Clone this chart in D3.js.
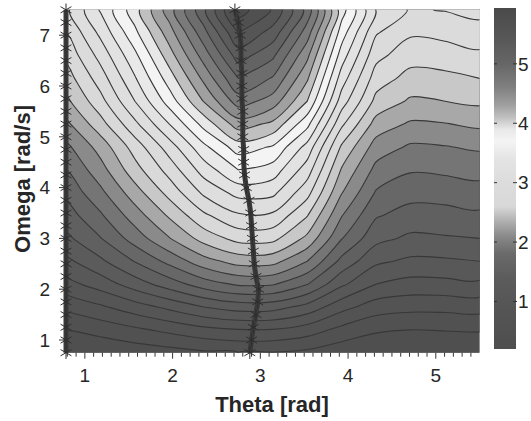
<!DOCTYPE html>
<html>
<head>
<meta charset="utf-8">
<script src="https://cdn.jsdelivr.net/npm/d3@7"></script>
<style>
  body { margin: 0; background: #fff; }
  text { font-family: "Liberation Sans", Arial, sans-serif; fill: #262626; }
</style>
</head>
<body>
<div class="chart"></div>
<script>
var svgWidth = 531;
var svgHeight = 421;

// grid of the map (theta columns, omega rows)
var thetaGrid = [0.785, 1.178, 1.571, 1.964, 2.356, 2.749, 3.142, 3.534, 3.927, 4.320, 4.712, 5.105, 5.498];
var omegaGrid = [0.75, 1.2, 1.65, 2.1, 2.55, 3.0, 3.45, 3.9, 4.35, 4.8, 5.25, 5.7, 6.15, 6.6, 7.05, 7.5];

// values, one row per omega, bottom row first
var field = [
  [0.20, 0.24, 0.28, 0.32, 0.37, 0.40, 0.39, 0.35, 0.27, 0.22, 0.20, 0.20, 0.21],
  [0.40, 0.47, 0.56, 0.65, 0.74, 0.79, 0.79, 0.70, 0.54, 0.43, 0.40, 0.41, 0.42],
  [0.65, 0.77, 0.91, 1.05, 1.20, 1.29, 1.28, 1.13, 0.87, 0.70, 0.66, 0.66, 0.68],
  [0.93, 1.09, 1.30, 1.50, 1.70, 1.83, 1.82, 1.61, 1.24, 1.00, 0.93, 0.94, 0.96],
  [1.15, 1.36, 1.61, 1.86, 2.12, 2.28, 2.27, 2.00, 1.54, 1.24, 1.16, 1.17, 1.20],
  [1.35, 1.59, 1.89, 2.19, 2.48, 2.67, 2.66, 2.35, 1.81, 1.46, 1.36, 1.38, 1.40],
  [1.50, 1.77, 2.10, 2.43, 2.76, 2.97, 2.96, 2.61, 2.01, 1.62, 1.52, 1.53, 1.56],
  [1.65, 1.95, 2.31, 2.67, 3.04, 3.27, 3.25, 2.87, 2.21, 1.78, 1.67, 1.68, 1.72],
  [1.80, 2.12, 2.52, 2.88, 3.29, 3.60, 3.51, 3.10, 2.38, 1.94, 1.82, 1.84, 1.87],
  [1.95, 2.28, 2.69, 3.10, 3.55, 3.90, 3.78, 3.33, 2.57, 2.11, 1.97, 1.99, 2.03],
  [2.15, 2.52, 2.95, 3.40, 3.87, 4.30, 4.15, 3.66, 2.84, 2.32, 2.17, 2.19, 2.24],
  [2.35, 2.73, 3.20, 3.69, 4.21, 4.70, 4.51, 4.00, 3.10, 2.54, 2.37, 2.40, 2.44],
  [2.50, 2.90, 3.38, 3.90, 4.45, 5.00, 4.78, 4.23, 3.30, 2.70, 2.53, 2.55, 2.60],
  [2.65, 3.07, 3.55, 4.11, 4.69, 5.30, 5.04, 4.45, 3.50, 2.86, 2.68, 2.70, 2.76],
  [2.80, 3.25, 3.75, 4.31, 4.93, 5.60, 5.32, 4.70, 3.70, 3.02, 2.83, 2.86, 2.91],
  [2.95, 3.42, 3.92, 4.51, 5.16, 5.90, 5.58, 4.93, 3.89, 3.19, 2.98, 3.01, 3.07]
];

var levels = [0.2, 0.4, 0.6, 0.8, 1.0, 1.2, 1.4, 1.6, 1.8, 2.0, 2.2, 2.4, 2.6, 2.8, 3.0,
  3.2, 3.4, 3.6, 3.8, 4.0, 4.2, 4.4, 4.6, 4.8, 5.0, 5.2, 5.4, 5.6, 5.8];

// optimum markers (the * chains)
var ridgeOmega = [0.75, 1.0, 1.25, 1.5, 1.75, 2.0, 2.25, 2.5, 2.75, 3.0, 3.25, 3.5, 3.75, 4.0,
  4.25, 4.5, 4.75, 5.0, 5.25, 5.5, 5.75, 6.0, 6.25, 6.5, 6.75, 7.0, 7.25, 7.5];
var ridgeTheta = [2.88, 2.90, 2.92, 2.95, 2.97, 2.98, 2.95, 2.93, 2.92, 2.91, 2.90, 2.89, 2.87, 2.84,
  2.82, 2.81, 2.81, 2.80, 2.80, 2.80, 2.79, 2.79, 2.79, 2.78, 2.78, 2.77, 2.75, 2.71];
var edgeTheta = 0.785;

// grey colour map as seen on the colour bar
var cmapValues = [0.2, 1.0, 1.4, 1.8, 2.1, 2.35, 2.6, 3.0, 3.4, 3.7, 3.9, 4.1, 4.3, 4.6, 5.0, 5.5, 5.94];
var cmapGrays = ["#4e4e4e", "#565656", "#5c5c5c", "#6a6a6a", "#8a8a8a", "#b0b0b0", "#d8d8d8", "#dcdcdc",
  "#e4e4e4", "#f4f4f4", "#e8e8e8", "#c0c0c0", "#a0a0a0", "#808080", "#666666", "#555555", "#4a4a4a"];

var xTicks = [1, 2, 3, 4, 5];
var yTicks = [1, 2, 3, 4, 5, 6, 7];
var cbTicks = [1, 2, 3, 4, 5];

var svg = d3
  .select(".chart")
  .append("svg")
  .attr("width", svgWidth)
  .attr("height", svgHeight);

var x = d3.scaleLinear().domain([0.785, 5.498]).range([66, 479.5]);
var y = d3.scaleLinear().domain([0.75, 7.5]).range([352.7, 9.8]);
var cbY = d3.scaleLinear().domain([0.2, 5.94]).range([349, 8]);
var color = d3.scaleLinear().domain(cmapValues).range(cmapGrays);

// clip to the plot area
svg.append("clipPath").attr("id", "plotClip")
  .append("rect")
  .attr("x", x(0.785)).attr("y", y(7.5))
  .attr("width", x(5.498) - x(0.785))
  .attr("height", y(0.75) - y(7.5));

var plot = svg.append("g").attr("clip-path", "url(#plotClip)");

plot.append("rect")
  .attr("x", x(0.785)).attr("y", y(7.5))
  .attr("width", x(5.498) - x(0.785))
  .attr("height", y(0.75) - y(7.5))
  .attr("fill", color(0.2));

// contours
var n = thetaGrid.length, m = omegaGrid.length;
var values = [];
field.forEach(function (row) { row.forEach(function (v) { values.push(v); }); });

var contours = d3.contours().size([n, m]).thresholds(levels)(values);

var dTh = (thetaGrid[n - 1] - thetaGrid[0]) / (n - 1);
var dOm = (omegaGrid[m - 1] - omegaGrid[0]) / (m - 1);

var ringLine = d3.line()
  .x(function (p) { return x(thetaGrid[0] + (p[0] - 0.5) * dTh); })
  .y(function (p) { return y(omegaGrid[0] + (p[1] - 0.5) * dOm); })
  .curve(d3.curveCatmullRomClosed.alpha(0.5));

function bandPath(geom) {
  return geom.coordinates.map(function (poly) {
    return poly.map(function (ring) { return ringLine(ring.slice(0, -1)); }).join("");
  }).join("");
}

plot.selectAll("path.band")
  .data(contours)
  .enter()
  .append("path")
  .attr("class", "band")
  .attr("d", bandPath)
  .attr("fill-rule", "evenodd")
  .attr("fill", function (d) { return color(d.value + 0.1); });

plot.selectAll("path.iso")
  .data(contours.slice(1))
  .enter()
  .append("path")
  .attr("class", "iso")
  .attr("d", bandPath)
  .attr("fill", "none")
  .attr("stroke", "#383838")
  .attr("stroke-width", 1.1);

// * markers
var star = d3.symbol().type(d3.symbolAsterisk).size(110);

var ridge = ridgeOmega.map(function (w, i) { return [ridgeTheta[i], w]; });
var edge = ridgeOmega.map(function (w) { return [edgeTheta, w]; });

[ridge, edge].forEach(function (pts) {
  svg.append("path")
    .datum(pts)
    .attr("fill", "none")
    .attr("stroke", "#3a3a3a")
    .attr("stroke-width", 5)
    .attr("d", d3.line().x(function (d) { return x(d[0]); }).y(function (d) { return y(d[1]); }));

  svg.append("g")
    .selectAll("path")
    .data(pts)
    .enter()
    .append("path")
    .attr("transform", function (d) { return "translate(" + x(d[0]) + "," + y(d[1]) + ")"; })
    .attr("d", star)
    .attr("fill", "none")
    .attr("stroke", "#2e2e2e")
    .attr("stroke-width", 1);
});

// axes
var bottom = y(0.75);
var minor = d3.range(8, 55).map(function (k) { return k / 10; });

svg.append("g").selectAll("line")
  .data(minor)
  .enter()
  .append("line")
  .attr("x1", function (d) { return x(d); }).attr("x2", function (d) { return x(d); })
  .attr("y1", bottom).attr("y2", function (d) { return Number.isInteger(Math.round(d * 10) / 10) ? bottom + 6 : bottom + 4; })
  .attr("stroke", "#333").attr("stroke-width", 1);

svg.append("g").selectAll("text")
  .data(xTicks)
  .enter()
  .append("text")
  .attr("x", function (d) { return x(d); })
  .attr("y", 382)
  .attr("text-anchor", "middle")
  .style("font-size", "19px")
  .text(function (d) { return d; });

svg.append("g").selectAll("line")
  .data(yTicks)
  .enter()
  .append("line")
  .attr("x1", x(0.785) - 7).attr("x2", x(0.785))
  .attr("y1", function (d) { return y(d); }).attr("y2", function (d) { return y(d); })
  .attr("stroke", "#333").attr("stroke-width", 1);

svg.append("g").selectAll("text")
  .data(yTicks)
  .enter()
  .append("text")
  .attr("x", 50)
  .attr("y", function (d) { return y(d); })
  .attr("dy", "0.36em")
  .attr("text-anchor", "end")
  .style("font-size", "19px")
  .text(function (d) { return d; });

svg.append("text")
  .attr("x", 272)
  .attr("y", 412)
  .attr("text-anchor", "middle")
  .style("font-size", "22px")
  .style("font-weight", "bold")
  .text("Theta [rad]");

svg.append("text")
  .attr("transform", "translate(30,179) rotate(-90)")
  .attr("text-anchor", "middle")
  .style("font-size", "22px")
  .style("font-weight", "bold")
  .text("Omega [rad/s]");

// colour bar
var grad = svg.append("defs").append("linearGradient")
  .attr("id", "cbGrad")
  .attr("x1", 0).attr("y1", 1).attr("x2", 0).attr("y2", 0);

grad.selectAll("stop")
  .data(cmapValues)
  .enter()
  .append("stop")
  .attr("offset", function (d) { return (d - 0.2) / (5.94 - 0.2); })
  .attr("stop-color", function (d, i) { return cmapGrays[i]; });

var cbX0 = 494, cbX1 = 516;

svg.append("rect")
  .attr("x", cbX0).attr("y", cbY(5.94))
  .attr("width", cbX1 - cbX0)
  .attr("height", cbY(0.2) - cbY(5.94))
  .attr("fill", "url(#cbGrad)");

var cbt = svg.append("g");
cbTicks.forEach(function (t) {
  cbt.append("line").attr("x1", cbX0).attr("x2", cbX0 + 3)
    .attr("y1", cbY(t)).attr("y2", cbY(t)).attr("stroke", "#333");
  cbt.append("line").attr("x1", cbX1 - 3).attr("x2", cbX1 + 1)
    .attr("y1", cbY(t)).attr("y2", cbY(t)).attr("stroke", "#333");
  cbt.append("text")
    .attr("x", 518)
    .attr("y", cbY(t))
    .attr("dy", "0.36em")
    .style("font-size", "19px")
    .text(t);
});
</script>
</body>
</html>
